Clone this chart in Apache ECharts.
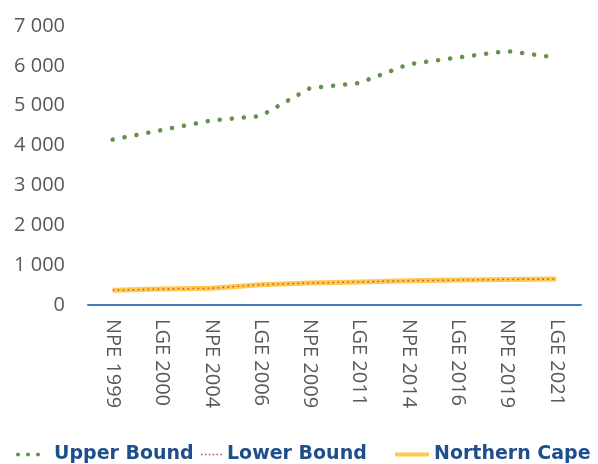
<!DOCTYPE html>
<html>
<head>
<meta charset="utf-8">
<script src="https://cdn.jsdelivr.net/npm/echarts@6/dist/echarts.min.js"></script>
<style>
  html, body { margin: 0; padding: 0; background: #ffffff; }
  #chart { width: 598px; height: 464px; }
</style>
</head>
<body>
<div id="chart"></div>
<script>
// Election events along the x axis
const categories = ['NPE 1999', 'LGE 2000', 'NPE 2004', 'LGE 2006', 'NPE 2009',
                    'LGE 2011', 'NPE 2014', 'LGE 2016', 'NPE 2019', 'LGE 2021'];

// Series values
const upperBound    = [4150, 4390, 4630, 4740, 5440, 5570, 6040, 6210, 6370, 6210];
const lowerBound    = [370, 400, 420, 510, 550, 580, 610, 625, 640, 650];
const northernCape  = [370, 400, 420, 510, 550, 580, 610, 625, 640, 650];

// Value axis ticks
const yTicks = [0, 1000, 2000, 3000, 4000, 5000, 6000, 7000];

const fmt = v => {
  const s = String(v);
  return s.length > 3 ? s.slice(0, s.length - 3) + ' ' + s.slice(-3) : s;
};

// Legend glyphs: three round dots, a fine dotted rule, a solid bar
const dotIcon = 'path://M0,2a2,2 0 1,0 4,0a2,2 0 1,0 -4,0Z' +
                'M10,2a2,2 0 1,0 4,0a2,2 0 1,0 -4,0Z' +
                'M20,2a2,2 0 1,0 4,0a2,2 0 1,0 -4,0Z';
let fine = '';
for (let i = 0; i < 6; i++) {
  const x = i * 3.5;
  fine += 'M' + x + ',0h1.5v1.5h-1.5Z';
}
const fineIcon = 'path://' + fine;
const barIcon = 'path://M0,0h34v4h-34Z';

const legendText = {
  color: '#1f4e8c',
  fontFamily: 'DejaVu Sans',
  fontWeight: 'bold',
  fontSize: 19
};

function legendItem(name, icon, left, width, padLeft) {
  return {
    data: [{ name: name, icon: icon }],
    top: 440,
    left: left,
    itemWidth: width,
    itemHeight: 14,
    symbolKeepAspect: true,
    itemStyle: { borderWidth: 0 },
    lineStyle: { width: 0 },
    selectedMode: false,
    textStyle: Object.assign({ padding: [0, 0, 0, padLeft] }, legendText)
  };
}

const chart = echarts.init(document.getElementById('chart'), null, { renderer: 'canvas' });

chart.setOption({
  animation: false,
  backgroundColor: '#ffffff',
  grid: { left: 88, right: 17, top: 26, bottom: 159, containLabel: false },
  legend: [
    legendItem('Upper Bound', dotIcon, 11, 24, 9),
    legendItem('Lower Bound', fineIcon, 196, 21, 0),
    legendItem('Northern Cape', barIcon, 390, 34, 0)
  ],
  xAxis: {
    type: 'category',
    data: categories,
    boundaryGap: true,
    axisLine: { show: true, lineStyle: { color: '#4a78c2', width: 2 } },
    axisTick: { show: false },
    axisLabel: {
      rotate: -90,
      interval: 0,
      color: '#595959',
      fontFamily: 'Open Sans',
      fontSize: 20,
      margin: 14
    }
  },
  yAxis: {
    type: 'value',
    min: yTicks[0],
    max: yTicks[yTicks.length - 1],
    interval: 1000,
    axisLine: { show: false },
    axisTick: { show: false },
    splitLine: { show: false },
    axisLabel: {
      color: '#595959',
      fontFamily: 'Open Sans',
      fontSize: 20,
      margin: 23,
      formatter: v => fmt(v)
    }
  },
  series: [
    {
      name: 'Upper Bound',
      type: 'line',
      data: upperBound,
      symbol: 'none',
      z: 3,
      itemStyle: { color: '#64924a' },
      lineStyle: { color: '#64924a', width: 4.5, type: [0.1, 12], cap: 'round' }
    },
    {
      name: 'Northern Cape',
      type: 'line',
      data: northernCape,
      symbol: 'none',
      z: 2,
      itemStyle: { color: '#ffc94d' },
      lineStyle: { color: '#ffc94d', width: 5 }
    },
    {
      name: 'Lower Bound',
      type: 'line',
      data: lowerBound,
      symbol: 'none',
      z: 4,
      itemStyle: { color: '#c0504d' },
      lineStyle: { color: '#c0504d', width: 1.5, type: [1.5, 3.5] }
    }
  ]
});
</script>
</body>
</html>
